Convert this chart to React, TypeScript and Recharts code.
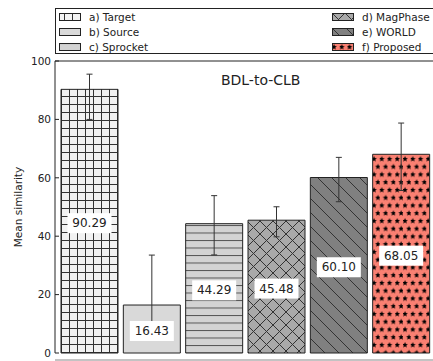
import { BarChart, Bar, XAxis, YAxis, Cell, ErrorBar, LabelList, ReferenceLine } from "recharts";

const categories = ["a) Target", "b) Source", "c) Sprocket", "d) MagPhase", "e) WORLD", "f) Proposed"];
const means = [90.29, 16.43, 44.29, 45.48, 60.1, 68.05];
const errLow = [10.3, 8.4, 10.7, 5.7, 8.3, 12.4];
const errHigh = [5.2, 17.1, 9.6, 4.6, 6.9, 10.7];
const yTicks = [0, 20, 40, 60, 80, 100];
const patterns = ["pat-a", "pat-b", "pat-c", "pat-d", "pat-e", "pat-f"];

const data = categories.map((name, i) => ({
  name,
  value: means[i],
  err: [errLow[i], errHigh[i]],
}));

const FONT = "'DejaVu Sans', sans-serif";
const INK = "#222";

function starPath(cx: number, cy: number, r: number) {
  const pts: string[] = [];
  for (let k = 0; k < 10; k++) {
    const rad = k % 2 === 0 ? r : r * 0.45;
    const a = -Math.PI / 2 + (k * Math.PI) / 5;
    pts.push(`${(cx + rad * Math.cos(a)).toFixed(2)},${(cy + rad * Math.sin(a)).toFixed(2)}`);
  }
  return "M" + pts.join("L") + "Z";
}

function Patterns() {
  return (
    <svg width={0} height={0} style={{ position: "absolute" }}>
      <defs>
        <pattern id="pat-a" x={61} y={0} width={8} height={8} patternUnits="userSpaceOnUse">
          <rect width={8} height={8} fill="#f2f2f2" />
          <path d="M0.5 0 V8 M0 0.5 H8" stroke="#333" strokeWidth={1} />
        </pattern>
        <pattern id="pat-b" width={8} height={8} patternUnits="userSpaceOnUse">
          <rect width={8} height={8} fill="#d9d9d9" />
        </pattern>
        <pattern id="pat-c" width={8} height={7.5} patternUnits="userSpaceOnUse">
          <rect width={8} height={7.5} fill="#d3d3d3" />
          <path d="M0 0.5 H8" stroke="#555" strokeWidth={1} />
        </pattern>
        <pattern id="pat-d" width={13} height={13} patternUnits="userSpaceOnUse">
          <rect width={13} height={13} fill="#a9a9a9" />
          <path d="M-1 -1 L14 14 M14 -1 L-1 14" stroke="#333" strokeWidth={1} />
        </pattern>
        <pattern id="pat-e" width={14} height={14} patternUnits="userSpaceOnUse">
          <rect width={14} height={14} fill="#808080" />
          <path d="M0 0 L14 14 M-7 7 L7 21 M7 -7 L21 7" stroke="#333" strokeWidth={1} />
        </pattern>
        <pattern id="pat-f" width={7.75} height={15.5} patternUnits="userSpaceOnUse">
          <rect width={7.75} height={15.5} fill="#fa8072" />
          <path d={starPath(2, 4, 3)} fill="#000" />
          <path d={starPath(5.9, 11.75, 3)} fill="#000" />
        </pattern>
      </defs>
    </svg>
  );
}

function ValueLabel(props: any) {
  const { x, y, width, height, value } = props;
  const cx = x + width / 2;
  const cy = y + height / 2 + 2;
  return (
    <g>
      <rect x={cx - 22} y={cy - 10} width={44} height={20} fill="#fff" />
      <text x={cx} y={cy} textAnchor="middle" dominantBaseline="central" fontSize={12} fontFamily={FONT} fill={INK}>
        {Number(value).toFixed(2)}
      </text>
    </g>
  );
}

function LegendBox() {
  return (
    <div
      style={{
        position: "absolute",
        left: 55,
        top: 8,
        width: 400,
        height: 46,
        border: `1px solid ${INK}`,
        boxSizing: "border-box",
        fontFamily: FONT,
        fontSize: 10.5,
        color: INK,
      }}
    >
      {categories.map((c, i) => {
        const col = Math.floor(i / 3);
        const row = i % 3;
        const left = col === 0 ? 3 : 276;
        return (
          <div key={c} style={{ position: "absolute", left, top: 1 + row * 15, height: 14, display: "flex", alignItems: "center", whiteSpace: "nowrap" }}>
            <svg width={22} height={8} style={{ marginRight: 8 }}>
              <rect x={0.5} y={0.5} width={21} height={7} fill={`url(#${patterns[i]})`} stroke={INK} strokeWidth={1} />
            </svg>
            <span>{c}</span>
          </div>
        );
      })}
    </div>
  );
}

export default function App() {
  return (
    <div style={{ position: "absolute", left: 0, top: 0, width: 433, height: 361, overflow: "hidden", background: "#fff" }}>
      <Patterns />
      <BarChart width={433} height={361} data={data} margin={{ top: 61, right: 0, bottom: 8, left: 0 }} barSize={57}>
        <XAxis dataKey="name" height={0} tick={false} tickLine={false} axisLine={{ stroke: INK }} padding={{ left: 3, right: 1 }} />
        <YAxis
          domain={[0, 100]}
          ticks={yTicks}
          width={55}
          tickSize={-4}
          tickMargin={8}
          axisLine={{ stroke: INK }}
          tickLine={{ stroke: INK }}
          tick={{ fontSize: 10.5, fontFamily: FONT, fill: INK }}
        />
        <YAxis yAxisId="right" orientation="right" domain={[0, 100]} ticks={yTicks} width={0} tickSize={-4} tick={false} tickLine={{ stroke: INK }} axisLine={false} />
        <ReferenceLine y={100} stroke={INK} />
        <Bar dataKey="value" stroke={INK} strokeWidth={1} isAnimationActive={false}>
          {data.map((d, i) => (
            <Cell key={d.name} fill={`url(#${patterns[i]})`} />
          ))}
          <ErrorBar dataKey="err" width={3} stroke="#333" strokeWidth={1} />
          <LabelList dataKey="value" content={ValueLabel} />
        </Bar>
        <text x={260.7} y={80} textAnchor="middle" dominantBaseline="central" fontSize={14} fontFamily={FONT} fill={INK}>
          BDL-to-CLB
        </text>
        <text x={18} y={207} transform="rotate(-90 18 207)" textAnchor="middle" dominantBaseline="central" fontSize={10.5} fontFamily={FONT} fill={INK}>
          Mean similarity
        </text>
        <line x1={55} y1={360} x2={433} y2={360} stroke="#888" strokeWidth={1} />
      </BarChart>
      <LegendBox />
    </div>
  );
}
